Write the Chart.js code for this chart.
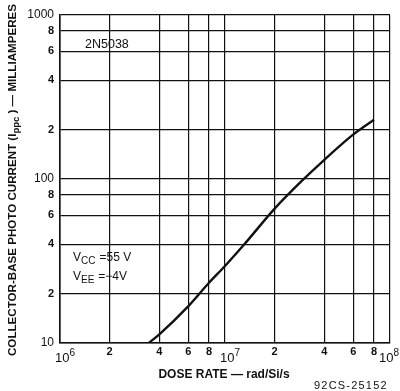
<!DOCTYPE html>
<html><head><meta charset="utf-8">
<script src="https://cdn.jsdelivr.net/npm/chart.js@4/dist/chart.umd.min.js"></script>
<style>html,body{margin:0;padding:0;background:#fff;}#wrap{width:400px;height:391px;}</style>
</head><body><div id="wrap"><canvas id="c" width="400" height="391"></canvas></div>
<script>
// Data
const doseRate = [3.45e6, 4e6, 6e6, 8e6, 1e7, 1.31e7, 2e7, 2.94e7, 4e7, 6e7, 8e7];
const photoCurrent = [10, 11.3, 16.8, 23.3, 29.5, 40, 66, 98, 131, 187, 230];
const xTicks = [1e6, 2e6, 4e6, 6e6, 8e6, 1e7, 2e7, 4e7, 6e7, 8e7, 1e8];
const yTicks = [10, 20, 40, 60, 80, 100, 200, 400, 600, 800, 1000];
const decadeExponents = [6, 7, 8];

const FONT = '"Liberation Sans", Arial, sans-serif';
const INK = '#111';

function isDecade(v) { return Math.abs(Math.log10(v) - Math.round(Math.log10(v))) < 1e-9; }
function lead(v) { return String(Math.round(v / Math.pow(10, Math.floor(Math.log10(v) + 1e-9)))); }

const textPlugin = {
  id: 'texts',
  afterDraw(chart) {
    const ctx = chart.ctx;
    ctx.save();
    ctx.fillStyle = INK;
    ctx.textBaseline = 'alphabetic';
    // decade labels on x axis (10^n) placed through the x scale
    const xs = chart.scales.x;
    decadeExponents.forEach(e => {
      const px = xs.getPixelForValue(Math.pow(10, e));
      ctx.font = '13px ' + FONT;
      const w = ctx.measureText('10').width;
      ctx.font = '10px ' + FONT;
      const ws = ctx.measureText(String(e)).width;
      const x0 = Math.min(px - 5, chart.width - w - ws - 1);
      ctx.textAlign = 'left';
      ctx.font = '13px ' + FONT;
      ctx.fillText('10', x0, 362);
      ctx.font = '10px ' + FONT;
      ctx.fillText(String(e), x0 + w, 356);
    });
    // 2N5038
    ctx.font = '12.5px ' + FONT;
    ctx.textAlign = 'left';
    ctx.fillText('2N5038', 85, 48);
    // Vcc / Vee
    function vline(x, y, sub, rest) {
      ctx.font = '12px ' + FONT;
      ctx.fillText('V', x, y);
      let w = ctx.measureText('V').width;
      ctx.font = '10px ' + FONT;
      ctx.fillText(sub, x + w, y + 3);
      w += ctx.measureText(sub).width + 4;
      ctx.font = '12px ' + FONT;
      ctx.fillText(rest, x + w, y);
    }
    vline(73, 261, 'CC', '=55 V');
    vline(73, 280, 'EE', '=\u22124V');
    // X title
    ctx.font = 'bold 12px ' + FONT;
    ctx.textAlign = 'center';
    ctx.fillText('DOSE RATE \u2014 rad/Si/s', 224, 378);
    // footer
    ctx.font = '11px ' + FONT;
    ctx.textAlign = 'left';
    try { ctx.letterSpacing = '1.2px'; } catch (e) {}
    ctx.fillText('92CS-25152', 314, 389);
    try { ctx.letterSpacing = '0px'; } catch (e) {}
    // Y title rotated
    ctx.translate(16, 180);
    ctx.rotate(-Math.PI / 2);
    const parts = [
      ['COLLECTOR-BASE PHOTO CURRENT (I', 'bold 11px ', 0],
      ['ppc', 'bold 9px ', 3],
      [' ) \u2014 MILLIAMPERES', 'bold 11px ', 0]
    ];
    let total = 0;
    parts.forEach(p => { ctx.font = p[1] + FONT; total += ctx.measureText(p[0]).width; });
    const target = 352;
    const sx = target / total;
    ctx.scale(sx, 1);
    let x = -total / 2;
    ctx.textAlign = 'left';
    parts.forEach(p => { ctx.font = p[1] + FONT; ctx.fillText(p[0], x, p[2]); x += ctx.measureText(p[0]).width; });
    ctx.restore();
  }
};

new Chart(document.getElementById('c'), {
  type: 'line',
  data: {
    datasets: [{
      data: doseRate.map((x, i) => ({x: x, y: photoCurrent[i]})),
      borderColor: INK,
      borderWidth: 2.4,
      pointRadius: 0,
      cubicInterpolationMode: 'monotone',
      fill: false
    }]
  },
  options: {
    responsive: false,
    animation: false,
    layout: {padding: {left: 0, right: 10, top: 15, bottom: 0}},
    plugins: {legend: {display: false}, tooltip: {enabled: false}},
    scales: {
      x: {
        type: 'logarithmic', min: 1e6, max: 1e8,
        afterBuildTicks: s => { s.ticks = xTicks.map(v => ({value: v})); },
        afterFit: s => { s.height = 48; },
        grid: {color: INK, lineWidth: 1.2, drawTicks: false},
        border: {color: INK, width: 1.6},
        ticks: {
          autoSkip: false, maxRotation: 0, padding: 2, color: INK,
          font: {family: FONT, size: 11, weight: 'bold'},
          callback: v => isDecade(v) ? '' : lead(v)
        }
      },
      y: {
        type: 'logarithmic', min: 10, max: 1000,
        afterBuildTicks: s => { s.ticks = yTicks.map(v => ({value: v})); },
        afterFit: s => { s.width = 60; },
        grid: {color: INK, lineWidth: 1.2, drawTicks: false},
        border: {color: INK, width: 1.6},
        ticks: {
          autoSkip: false, padding: 6, color: INK,
          font: ctx => {
            const v = ctx.tick && ctx.tick.value;
            return (v && isDecade(v)) ? {family: FONT, size: 12} : {family: FONT, size: 11, weight: 'bold'};
          },
          callback: v => isDecade(v) ? String(v) : lead(v)
        }
      }
    }
  },
  plugins: [textPlugin]
});
</script>
</body></html>
